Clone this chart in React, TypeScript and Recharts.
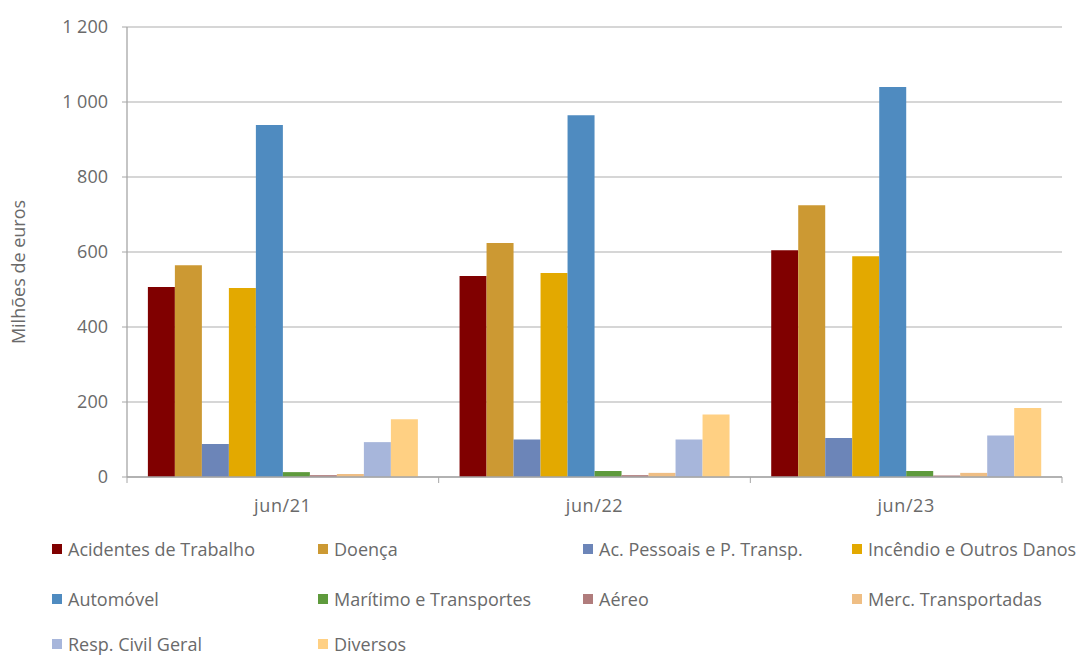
import { BarChart, Bar, XAxis, YAxis, CartesianGrid } from 'recharts';

const periods = ['jun/21', 'jun/22', 'jun/23'];

const acidentesTrabalho = [507, 536, 605];
const doenca = [565, 624, 725];
const acPessoais = [88, 100, 104];
const incendio = [504, 544, 589];
const automovel = [939, 965, 1040];
const maritimo = [13, 16, 16];
const aereo = [5, 5, 4];
const mercTransportadas = [8, 11, 11];
const respCivil = [93, 100, 111];
const diversos = [154, 167, 184];

const yTicks = [0, 200, 400, 600, 800, 1000, 1200];

const series = [
  { key: 'acidentes', name: 'Acidentes de Trabalho', values: acidentesTrabalho, color: '#800000' },
  { key: 'doenca', name: 'Doença', values: doenca, color: '#CC9933' },
  { key: 'acPessoais', name: 'Ac. Pessoais e P. Transp.', values: acPessoais, color: '#6C85B8' },
  { key: 'incendio', name: 'Incêndio e Outros Danos', values: incendio, color: '#E3A900' },
  { key: 'automovel', name: 'Automóvel', values: automovel, color: '#4F8BC0' },
  { key: 'maritimo', name: 'Marítimo e Transportes', values: maritimo, color: '#5E9A3C' },
  { key: 'aereo', name: 'Aéreo', values: aereo, color: '#B07C7C' },
  { key: 'merc', name: 'Merc. Transportadas', values: mercTransportadas, color: '#EFBE84' },
  { key: 'resp', name: 'Resp. Civil Geral', values: respCivil, color: '#A7B6DB' },
  { key: 'diversos', name: 'Diversos', values: diversos, color: '#FFD083' },
];

const data = periods.map((period, i) => {
  const row: Record<string, string | number> = { period };
  series.forEach((s) => {
    row[s.key] = s.values[i];
  });
  return row;
});

const FONT = '"Open Sans", "Noto Sans", sans-serif';
const TEXT = '#6A6A6A';
const AXIS = '#A6A6A6';

const PLOT_LEFT = 127;
const PLOT_RIGHT = 1062;
const HALF_BAND = (PLOT_RIGHT - PLOT_LEFT) / periods.length / 2;

const fmt = (v: number) => v.toLocaleString('en-US').replace(/,/g, ' ');

// category label plus the small tick marks sitting on the band edges
function PeriodTick(props: any) {
  const { x, y, payload, index } = props;
  const last = index === periods.length - 1;
  return (
    <g>
      <line x1={x - HALF_BAND} y1={y - 8} x2={x - HALF_BAND} y2={y - 2} stroke={AXIS} />
      {last && <line x1={x + HALF_BAND} y1={y - 8} x2={x + HALF_BAND} y2={y - 2} stroke={AXIS} />}
      <text x={x} y={y + 27} textAnchor="middle" fill={TEXT} fontSize={18} fontFamily={FONT} letterSpacing={0.6}>
        {payload.value}
      </text>
    </g>
  );
}

const legendCols = [52, 318, 583, 852];
const legendRows = [549, 599, 644];

export default function App() {
  return (
    <div style={{ position: 'absolute', left: 0, top: 0, width: 1082, height: 657, background: '#fff', overflow: 'hidden' }}>
      <BarChart
        width={1082}
        height={657}
        data={data}
        margin={{ top: 27, right: 1082 - PLOT_RIGHT, bottom: 150, left: PLOT_LEFT - 60 }}
        barCategoryGap="6.7%"
        barGap={0}
      >
        <CartesianGrid vertical={false} stroke="#C8C8C8" strokeWidth={1.3} />
        <XAxis
          dataKey="period"
          axisLine={{ stroke: AXIS, strokeWidth: 1.3 }}
          tickLine={false}
          tick={<PeriodTick />}
          height={30}
          interval={0}
        />
        <YAxis
          domain={[0, 1200]}
          ticks={yTicks}
          width={60}
          axisLine={{ stroke: AXIS, strokeWidth: 1.3 }}
          tickLine={{ stroke: AXIS }}
          tickSize={5}
          tickMargin={14}
          tickFormatter={fmt}
          tick={{ fill: TEXT, fontSize: 18, fontFamily: FONT }}
          label={{
            value: 'Milhões de euros',
            angle: -90,
            position: 'insideLeft',
            dx: -53,
            dy: 20,
            style: { fill: TEXT, fontSize: 18, fontFamily: FONT, textAnchor: 'middle' },
          }}
        />
        {series.map((s) => (
          <Bar key={s.key} dataKey={s.key} name={s.name} fill={s.color} isAnimationActive={false} />
        ))}
      </BarChart>
      {series.map((s, i) => (
        <div
          key={s.key}
          style={{
            position: 'absolute',
            left: legendCols[i % 4],
            top: legendRows[Math.floor(i / 4)] - 11,
            display: 'flex',
            alignItems: 'center',
            fontFamily: FONT,
            fontSize: 18,
            color: TEXT,
            whiteSpace: 'nowrap',
            lineHeight: '22px',
          }}
        >
          <span style={{ width: 10, height: 10, background: s.color, marginRight: 6, display: 'inline-block' }} />
          {s.name}
        </div>
      ))}
    </div>
  );
}
